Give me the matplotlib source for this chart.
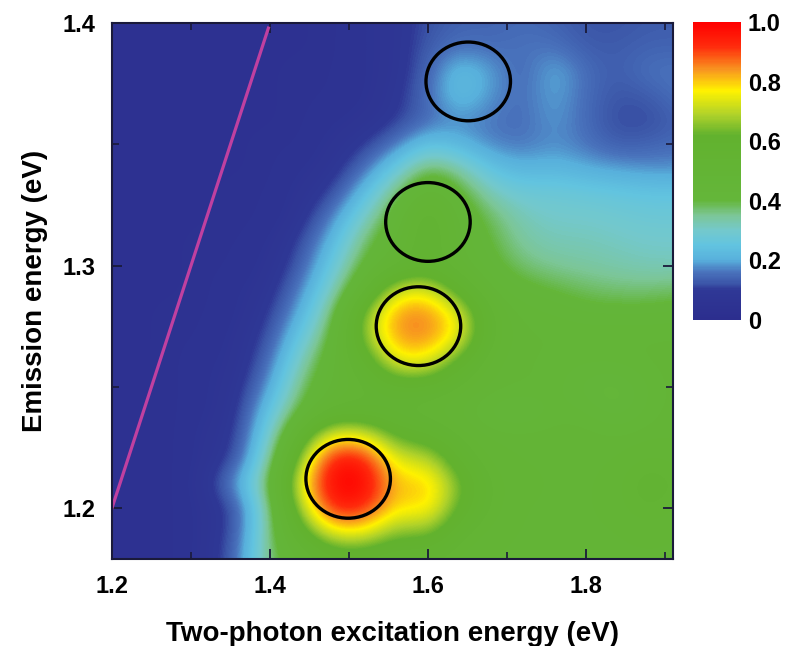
# two-photon excitation / emission map
import numpy as np
import matplotlib
matplotlib.use("Agg")
import matplotlib.pyplot as plt
from matplotlib.colors import LinearSegmentedColormap
from matplotlib.patches import Ellipse
from matplotlib.ticker import MultipleLocator

plt.rcParams['font.family'] = ['Liberation Sans', 'DejaVu Sans']
plt.rcParams['font.weight'] = 'bold'

# excitation energies (columns) and emission energies (rows), eV
excitation = [1.20, 1.24, 1.28, 1.32, 1.36, 1.40, 1.44, 1.48, 1.52, 1.56,
              1.60, 1.64, 1.68, 1.72, 1.76, 1.80, 1.84, 1.88, 1.92]
emission = [1.18, 1.19, 1.20, 1.21, 1.22, 1.23, 1.24, 1.25, 1.26, 1.27, 1.28, 1.29,
            1.30, 1.31, 1.32, 1.33, 1.34, 1.35, 1.36, 1.37, 1.38, 1.39, 1.40]

# normalised intensity, one row per emission energy (bottom to top)
intensity = [
    [0.04, 0.04, 0.05, 0.07, 0.15, 0.38, 0.46, 0.55, 0.55, 0.52, 0.52, 0.48, 0.47, 0.47, 0.47, 0.47, 0.47, 0.47, 0.47],
    [0.04, 0.04, 0.05, 0.07, 0.13, 0.37, 0.58, 0.76, 0.76, 0.64, 0.66, 0.52, 0.48, 0.47, 0.47, 0.47, 0.47, 0.48, 0.47],
    [0.04, 0.04, 0.05, 0.07, 0.12, 0.36, 0.70, 0.95, 0.93, 0.77, 0.80, 0.60, 0.50, 0.47, 0.47, 0.47, 0.48, 0.52, 0.48],
    [0.04, 0.04, 0.05, 0.08, 0.20, 0.40, 0.77, 1.00, 1.00, 0.79, 0.82, 0.64, 0.50, 0.48, 0.47, 0.47, 0.48, 0.55, 0.50],
    [0.04, 0.04, 0.05, 0.07, 0.12, 0.35, 0.68, 0.97, 0.95, 0.73, 0.72, 0.55, 0.48, 0.47, 0.47, 0.47, 0.47, 0.50, 0.48],
    [0.04, 0.04, 0.05, 0.07, 0.10, 0.30, 0.56, 0.77, 0.75, 0.60, 0.57, 0.50, 0.47, 0.47, 0.47, 0.47, 0.46, 0.47, 0.47],
    [0.04, 0.04, 0.05, 0.06, 0.09, 0.25, 0.42, 0.52, 0.52, 0.50, 0.48, 0.47, 0.42, 0.39, 0.45, 0.44, 0.39, 0.45, 0.47],
    [0.04, 0.04, 0.05, 0.06, 0.08, 0.19, 0.38, 0.47, 0.50, 0.55, 0.55, 0.50, 0.47, 0.46, 0.45, 0.40, 0.38, 0.44, 0.47],
    [0.04, 0.04, 0.05, 0.06, 0.07, 0.15, 0.33, 0.46, 0.55, 0.75, 0.75, 0.58, 0.47, 0.46, 0.45, 0.44, 0.44, 0.46, 0.47],
    [0.04, 0.04, 0.05, 0.05, 0.07, 0.12, 0.27, 0.42, 0.66, 0.84, 0.85, 0.75, 0.50, 0.46, 0.46, 0.46, 0.46, 0.46, 0.46],
    [0.04, 0.04, 0.05, 0.05, 0.06, 0.10, 0.21, 0.38, 0.66, 0.85, 0.86, 0.75, 0.50, 0.45, 0.44, 0.42, 0.42, 0.42, 0.43],
    [0.04, 0.04, 0.04, 0.05, 0.06, 0.08, 0.17, 0.32, 0.50, 0.73, 0.75, 0.58, 0.45, 0.42, 0.40, 0.38, 0.37, 0.37, 0.38],
    [0.04, 0.04, 0.04, 0.05, 0.05, 0.07, 0.13, 0.27, 0.42, 0.50, 0.55, 0.47, 0.42, 0.37, 0.35, 0.34, 0.33, 0.32, 0.32],
    [0.04, 0.04, 0.04, 0.05, 0.05, 0.06, 0.11, 0.22, 0.38, 0.46, 0.56, 0.46, 0.40, 0.34, 0.32, 0.32, 0.31, 0.30, 0.30],
    [0.04, 0.04, 0.04, 0.04, 0.05, 0.05, 0.08, 0.17, 0.31, 0.44, 0.56, 0.45, 0.38, 0.32, 0.30, 0.30, 0.29, 0.28, 0.28],
    [0.04, 0.04, 0.04, 0.04, 0.05, 0.05, 0.07, 0.11, 0.23, 0.38, 0.50, 0.42, 0.32, 0.28, 0.28, 0.27, 0.26, 0.25, 0.25],
    [0.04, 0.04, 0.04, 0.04, 0.04, 0.05, 0.06, 0.08, 0.15, 0.27, 0.40, 0.34, 0.24, 0.21, 0.22, 0.20, 0.19, 0.18, 0.18],
    [0.04, 0.04, 0.04, 0.04, 0.04, 0.05, 0.05, 0.07, 0.10, 0.16, 0.25, 0.21, 0.17, 0.16, 0.18, 0.16, 0.13, 0.14, 0.15],
    [0.04, 0.04, 0.04, 0.04, 0.04, 0.04, 0.05, 0.06, 0.07, 0.10, 0.15, 0.18, 0.16, 0.15, 0.19, 0.15, 0.11, 0.11, 0.14],
    [0.04, 0.04, 0.04, 0.04, 0.04, 0.04, 0.05, 0.05, 0.06, 0.09, 0.15, 0.24, 0.18, 0.15, 0.20, 0.15, 0.12, 0.13, 0.16],
    [0.04, 0.04, 0.04, 0.04, 0.04, 0.04, 0.05, 0.05, 0.06, 0.08, 0.14, 0.24, 0.19, 0.14, 0.21, 0.15, 0.13, 0.16, 0.16],
    [0.04, 0.04, 0.04, 0.04, 0.04, 0.04, 0.04, 0.05, 0.06, 0.08, 0.13, 0.16, 0.15, 0.16, 0.16, 0.13, 0.13, 0.14, 0.14],
    [0.04, 0.04, 0.04, 0.04, 0.04, 0.04, 0.04, 0.05, 0.06, 0.08, 0.12, 0.14, 0.14, 0.15, 0.14, 0.12, 0.12, 0.13, 0.13],
]

# marked peaks (centre excitation, centre emission)
peak_ex = [1.651, 1.600, 1.588, 1.499]
peak_em = [1.376, 1.318, 1.275, 1.212]

# one-photon diagonal (excitation = emission)
diag_ex = [1.20, 1.398]
diag_em = [1.20, 1.398]

# colour map like the original (navy -> cyan -> green -> yellow -> red)
cmap = LinearSegmentedColormap.from_list("pl", [
    (0.00, '#2c2e8e'), (0.10, '#2f3896'), (0.12, '#3b55a8'), (0.16, '#4a74bd'),
    (0.20, '#58b0dc'), (0.25, '#62c4e0'), (0.30, '#74c9cc'), (0.35, '#7cc696'),
    (0.40, '#64b63a'), (0.62, '#62b22e'), (0.69, '#b0d22a'), (0.77, '#fff200'),
    (0.84, '#f89620'), (0.92, '#ff2a0c'), (1.00, '#ff0000')])

fig = plt.figure(figsize=(8, 6.46), dpi=100)
ax = fig.add_axes([0.14, 0.135, 0.701, 0.829])

z = np.array(intensity)
dx = (excitation[1] - excitation[0]) / 2
dy = (emission[1] - emission[0]) / 2
im = ax.imshow(z, origin='lower', cmap=cmap, vmin=0, vmax=1, aspect='auto',
               interpolation='bicubic',
               extent=[excitation[0] - dx, excitation[-1] + dx, emission[0] - dy, emission[-1] + dy])

# diagonal line
ax.plot(diag_ex, diag_em, color='#c040a0', linewidth=2.3)

# circles around the peaks
for x, y in zip(peak_ex, peak_em):
    ax.add_patch(Ellipse((x, y), 0.107, 0.0325, fill=False, edgecolor='black', linewidth=2.4))

ax.set_xlim(1.2, 1.91)
ax.set_ylim(1.179, 1.40)

ax.xaxis.set_major_locator(MultipleLocator(0.2))
ax.xaxis.set_minor_locator(MultipleLocator(0.1))
ax.yaxis.set_major_locator(MultipleLocator(0.1))
ax.yaxis.set_minor_locator(MultipleLocator(0.05))
ax.xaxis.set_major_formatter(plt.FormatStrFormatter('%.1f'))
ax.yaxis.set_major_formatter(plt.FormatStrFormatter('%.1f'))
ax.tick_params(which='both', direction='in', top=True, right=True, color='#1a1a3a')
ax.tick_params(which='major', length=7, width=1.3, labelsize=17, pad=12)
ax.tick_params(which='minor', length=5, width=1.2)
for s in ax.spines.values():
    s.set_linewidth(1.5)
    s.set_color('#1a1a3a')

ax.set_xlabel("Two-photon excitation energy (eV)", fontsize=20, fontweight='bold', labelpad=16)
ax.set_ylabel("Emission energy (eV)", fontsize=20, fontweight='bold', labelpad=10)

# colour bar
cax = fig.add_axes([0.866, 0.505, 0.06, 0.461])
cb = fig.colorbar(im, cax=cax, ticks=[0, 0.2, 0.4, 0.6, 0.8, 1.0])
cb.ax.set_yticklabels(['0', '0.2', '0.4', '0.6', '0.8', '1.0'])
cb.ax.tick_params(length=0, labelsize=17, pad=5)
cb.outline.set_visible(False)

plt.savefig("out.png", dpi=100)
